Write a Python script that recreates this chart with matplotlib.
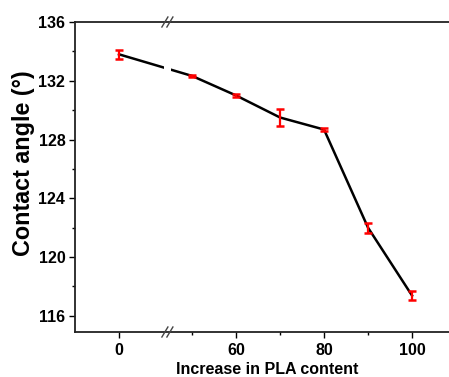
import numpy as np
import matplotlib
matplotlib.use("Agg")
import matplotlib.pyplot as plt
from matplotlib.ticker import FixedLocator, MultipleLocator
from matplotlib.patches import Rectangle

plt.rcParams['font.family'] = ['Liberation Sans', 'DejaVu Sans']
plt.rcParams['font.weight'] = 'bold'

pla = [0, 50, 60, 70, 80, 90, 100]
angle = [133.8, 132.33, 131.0, 129.5, 128.68, 122.0, 117.38]
err = [0.3, 0.08, 0.08, 0.58, 0.08, 0.34, 0.3]
major_ticks = [0, 60, 80, 100]
minor_ticks = [50, 70, 90]

b0, b1 = 11.0, 44.4
xp = [-1000, b0, b1, 1000]
pp = [-1000, b0, b0 + 0.001, 1000 - (b1 - b0) + 0.001]
fwd = lambda x: np.interp(x, xp, pp)
inv = lambda p: np.interp(p, pp, xp)

W, H = 449, 377
fig = plt.figure(figsize=(W / 100, H / 100), dpi=100)
ax = fig.add_axes([75 / W, (H - 332) / H, (460 - 75) / W, (332 - 22) / H])
ax.set_xscale('function', functions=(fwd, inv))
ax.set_xlim(-10, 110.9)
ax.set_ylim(114.9, 136)

ax.plot(pla, angle, color='black', lw=1.8, zorder=2)
ax.errorbar(pla, angle, yerr=err, fmt='none', ecolor='red', elinewidth=1.6,
            capsize=3, capthick=1.8, zorder=3)

# break region
px = ax.transData.transform([[b0, 120]])[0][0]
fig_tr = fig.transFigure.inverted()
(fx0, _), = fig_tr.transform([[px - 3.5, 0]])
(fx1, _), = fig_tr.transform([[px + 3.5, 0]])
axb = ax.get_position()
fig.patches.append(Rectangle((fx0, axb.y0 + 0.005), fx1 - fx0, axb.height - 0.01,
                             transform=fig.transFigure, facecolor='white',
                             edgecolor='none', zorder=5))
for yb in (axb.y0, axb.y1):
    (_, py), = fig.transFigure.transform([[0, yb]])
    for dx in (-2.5, 2.5):
        pts = fig_tr.transform([[px + dx - 3, py - 5], [px + dx + 3, py + 5]])
        fig.add_artist(plt.Line2D(pts[:, 0], pts[:, 1], color='#444444', lw=1.0,
                                  transform=fig.transFigure, zorder=6))

ax.xaxis.set_major_locator(FixedLocator(major_ticks))
ax.xaxis.set_minor_locator(FixedLocator(minor_ticks))
ax.yaxis.set_major_locator(MultipleLocator(4))
ax.yaxis.set_minor_locator(MultipleLocator(2))
ax.tick_params(which='major', direction='out', length=4, width=1, labelsize=11.5,
               pad=3)
ax.tick_params(axis='x', which='major', pad=4)
ax.tick_params(which='minor', direction='out', length=2.5, width=1)
for s in ax.spines.values():
    s.set_linewidth(1.3)
    s.set_color('#222222')
ax.spines['right'].set_visible(False)
for lab in ax.get_xticklabels() + ax.get_yticklabels():
    lab.set_fontweight('bold')

ax.set_xlabel('Increase in PLA content', fontsize=11.5, fontweight='bold', labelpad=2.5)
ax.set_ylabel('Contact angle (°)', fontsize=16.8, fontweight='bold')
ax.yaxis.set_label_coords(-0.105, 0.545)

fig.savefig('out.png', dpi=100)
